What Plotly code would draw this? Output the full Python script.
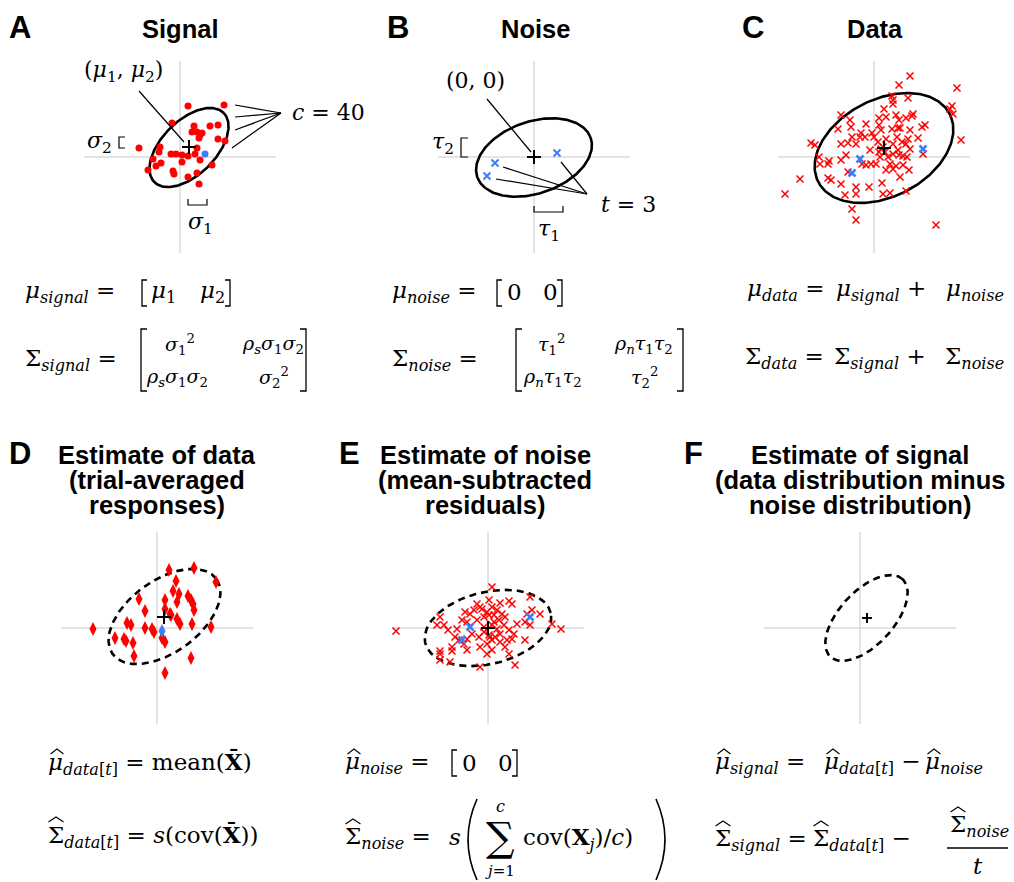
import numpy as np
import plotly.graph_objects as go

W, H = 1014, 882
HALF = 96

# ---------------- data (panel units: 1 unit = 1 px, origin at the cross) -------------
A_red_x = [8, 44, -8, 14, 12, 30, 38, 22, 19, 38, 45, -41, -20, -21, 17, -9, -4, 2, 8, 15,
           -27, 2, 20, 32, -24, -19, -32, -7, -6, 8, 17, 19, 17, 20]
A_red_y = [51, 52, 34, 31, 25, 31, 32, 24, 19, 18, 16, 9, 10, 5, 9, 3, 3, 2, 1, 3,
           -2, -5, -3, -8, -9, -6, -13, -14, -17, -20, -16, -27, 25, 22]
A_blue_x = [25]
A_blue_y = [3]
A_mean = [9, 10]

B_blue_x = [23, -39, -47]
B_blue_y = [4, -6, -19]
B_mean = [0, 0]

C_red_x = [36, 25, 83, 18, 19, 34, 19, 10, 78, 76, 79, -33, 5, 12, 39, 38, 25, 32, -24, -8,
           -23, 51, 48, 24, -36, -13, 7, -2, 18, 26, 36, -22, -14, 0, 12, 23, 34, 44, 87, -63,
           -59, -26, -18, 4, 19, 32, 7, 24, 36, 19, -4, 14, 25, 29, 33, 49, -55, -45, -33, -54,
           -46, -12, -8, 2, 16, 22, 29, -26, 12, 19, -74, -46, -43, -33, -18, -5, 8, 26, -89, -29,
           -18, 9, 16, 32, -22, -18, 62, 5, 9, 5, 11, -3, -28, -33, 22, 6, -9, 28, 35]
C_red_y = [81, 72, 69, 61, 57, 59, 53, 48, 51, 48, 43, 42, 39, 40, 43, 41, 37, 39, 37, 33,
           30, 32, 30, 29, 28, 24, 27, 24, 28, 29, 27, 20, 20, 20, 18, 20, 18, 19, 17, 14,
           12, 14, 13, 15, 13, 13, 8, 7, 8, 3, 7, 0, 2, 1, 0, 3, 0, -4, -3, -7,
           -7, -7, -8, -7, -7, -9, -8, -15, -13, -12, -22, -21, -23, -27, -30, -30, -26, -20, -37, -38,
           -37, -37, -36, -34, -52, -63, -68, 32, 10, 5, 5, -7, 2, 13, 42, 0, 20, 15, -13]
C_blue_x = [49, -14, -22]
C_blue_y = [8, -2, -16]
C_mean = [10, 9]

D_red_x = [12, 37, 59, 19, 16, 22, 20, 31, 34, 36, 37, -18, 8, -12, 8, 13, 20, 23, 35, 54,
           -30, -26, -12, -5, -3, -64, -42, -33, -31, -24, -23, 5, 8, 34, 8, 14]
D_red_y = [58, 60, 46, 47, 37, 34, 26, 32, 28, 24, 18, 29, 28, 17, 19, 14, 9, 4, 4, 1,
           5, 3, 0, -1, -4, -1, -10, -11, -13, -15, -28, -10, -14, -30, -45, 13]
D_blue_x = [5]
D_blue_y = [-3]
D_mean = [7, 11]

E_red_x = [4, 1, 42, -11, -8, -14, -18, -23, 12, 21, 24, 4, 9, -1, 6, 14, 17, 11, -4, -11,
           -21, -26, -48, -44, -51, -40, -31, 39, 44, 52, 37, 42, 64, 73, -92, 29, -4, 4, 9, 16,
           21, 26, 12, 7, 1, 4, -1, 12, 19, 17, 21, -9, -16, -21, -24, -33, -29, -36, -36, -48,
           -48, -48, -38, -8, 27, 37, -1, 4, 6, 2, -4, -8, -21, 24, 1, -6]
E_red_y = [41, 28, 31, 24, 21, 18, 14, 16, 25, 27, 24, 21, 18, 16, 13, 14, 11, 8, 11, 8,
           6, 8, 11, 3, 3, -2, -1, 14, 18, 14, 6, 3, 4, -1, -3, 4, 1, 3, -1, 3,
           -2, -6, -6, -9, -7, -12, -16, -14, -12, -19, -26, -9, -6, -11, -16, -9, -12, -19, -23, -23,
           -26, -32, -34, -39, -37, -12, -26, -22, 6, -9, -4, -19, -22, -11, 13, 19]
E_blue_x = [42, -18, -26]
E_blue_y = [11, 1, -12]
E_mean = [0, 0]

F_mean = [7, 10]

# ellipse parameters per panel: centre x, centre y, semi-major, semi-minor, angle (deg)
ELL = {
    "A": (9, 9.5, 49, 27, 45),
    "B": (0, -0.5, 60, 36, 19),
    "C": (10, 9, 74, 48.5, 27.5),
    "D": (7.5, 11.5, 64, 36, 36),
    "E": (0, 0, 64.5, 36, 13.5),
    "F": (6.5, 10, 53, 27, 47),
}

# panel centres in page pixels
CENTERS = {"A": (180, 157), "B": (534, 157), "C": (874, 157),
           "D": (157, 628), "E": (488, 628), "F": (860, 628)}
ORDER = ["A", "B", "C", "D", "E", "F"]

RED = "#ff0000"
BLUE = "#3d7ef5"
GRAY = "#c8c8c8"
SERIF = "DejaVu Serif"
SANS = "Liberation Sans"
MF = 23      # math font size
MM = 19      # matrix entry font size

fig = go.Figure()


def px2paper(px, py):
    return px / W, 1 - py / H


def ax_ids(i):
    return ("x" if i == 0 else f"x{i+1}"), ("y" if i == 0 else f"y{i+1}")


def ellipse_xy(cx, cy, a, b, ang):
    t = np.linspace(0, 2 * np.pi, 240)
    th = np.deg2rad(ang)
    x = cx + a * np.cos(t) * np.cos(th) - b * np.sin(t) * np.sin(th)
    y = cy + a * np.cos(t) * np.sin(th) + b * np.sin(t) * np.cos(th)
    return x, y


layout_axes = {}
for i, p in enumerate(ORDER):
    cx, cy = CENTERS[p]
    xa, ya = ax_ids(i)
    key = "" if i == 0 else str(i + 1)
    layout_axes["xaxis" + key] = dict(domain=[(cx - HALF) / W, (cx + HALF) / W], range=[-HALF, HALF],
                                      visible=False, fixedrange=True)
    layout_axes["yaxis" + key] = dict(domain=[1 - (cy + HALF) / H, 1 - (cy - HALF) / H], range=[-HALF, HALF],
                                      visible=False, fixedrange=True)
    fig.add_trace(go.Scatter(x=[-HALF, HALF], y=[0, 0], mode="lines", line=dict(color=GRAY, width=1),
                             xaxis=xa, yaxis=ya, hoverinfo="skip", showlegend=False))
    fig.add_trace(go.Scatter(x=[0, 0], y=[-HALF, HALF], mode="lines", line=dict(color=GRAY, width=1),
                             xaxis=xa, yaxis=ya, hoverinfo="skip", showlegend=False))


def add_pts(p, xs, ys, symbol, color, size, lw=0):
    i = ORDER.index(p)
    xa, ya = ax_ids(i)
    marker = dict(symbol=symbol, size=size, color=color)
    if lw:
        marker["line"] = dict(width=lw, color=color)
    fig.add_trace(go.Scatter(x=xs, y=ys, mode="markers", marker=marker, xaxis=xa, yaxis=ya,
                             cliponaxis=False, hoverinfo="skip", showlegend=False))


def add_ell(p, dashed):
    i = ORDER.index(p)
    xa, ya = ax_ids(i)
    x, y = ellipse_xy(*ELL[p])
    fig.add_trace(go.Scatter(x=x, y=y, mode="lines",
                             line=dict(color="black", width=2.6, dash="7px,5px" if dashed else "solid"),
                             xaxis=xa, yaxis=ya, hoverinfo="skip", showlegend=False))


def add_mean(p, m, size=10, lw=2):
    add_pts(p, [m[0]], [m[1]], "cross-thin", "black", size, lw)


add_ell("A", False)
add_pts("A", A_red_x, A_red_y, "circle", RED, 7)
add_pts("A", A_blue_x, A_blue_y, "circle", BLUE, 7)
add_mean("A", A_mean)
add_ell("B", False)
add_pts("B", B_blue_x, B_blue_y, "x-thin", BLUE, 7, 2)
add_mean("B", B_mean)
add_ell("C", False)
add_pts("C", C_red_x, C_red_y, "x-thin", RED, 7, 1.5)
add_pts("C", C_blue_x, C_blue_y, "x-thin", BLUE, 7, 2.5)
add_mean("C", C_mean)
add_ell("D", True)
add_pts("D", D_red_x, D_red_y, "diamond-tall", RED, 10)
add_pts("D", D_blue_x, D_blue_y, "diamond-tall", BLUE, 10)
add_mean("D", D_mean)
add_ell("E", True)
add_pts("E", E_red_x, E_red_y, "x-thin", RED, 7, 1.5)
add_pts("E", E_blue_x, E_blue_y, "x-thin", BLUE, 7, 2.5)
add_mean("E", E_mean)
add_ell("F", True)
add_mean("F", F_mean, 7, 2)

annotations = []
shapes = []


def text(px, py, s, size=MF, family=SERIF, xanchor="center", yanchor="middle"):
    x, y = px2paper(px, py)
    annotations.append(dict(x=x, y=y, xref="paper", yref="paper", text=s, showarrow=False,
                            xanchor=xanchor, yanchor=yanchor,
                            font=dict(family=family, size=size, color="black")))


def line(x0, y0, x1, y1, w=1.2):
    a0, b0 = px2paper(x0, y0)
    a1, b1 = px2paper(x1, y1)
    shapes.append(dict(type="line", xref="paper", yref="paper", x0=a0, y0=b0, x1=a1, y1=b1,
                       line=dict(color="black", width=w)))


def path(pts, w=1.2):
    d = ""
    for k, (px, py) in enumerate(pts):
        x, y = px2paper(px, py)
        d += ("M" if k == 0 else "L") + f"{x},{y} "
    shapes.append(dict(type="path", xref="paper", yref="paper", path=d.strip(),
                       line=dict(color="black", width=w)))


def paren(x_end, x_mid, y0, y1, w=1.6):
    a0, b0 = px2paper(x_end, y0)
    am, bm = px2paper(2 * x_mid - x_end, (y0 + y1) / 2)
    a1, b1 = px2paper(x_end, y1)
    shapes.append(dict(type="path", xref="paper", yref="paper",
                       path=f"M{a0},{b0} Q{am},{bm} {a1},{b1}", line=dict(color="black", width=w)))


def hat(xc, ytop, half=6.5, h=5):
    path([(xc - half, ytop + h), (xc, ytop), (xc + half, ytop + h)], 1.1)


def mu_hat(x0, py):
    hat(x0 + 11, py - 14, 6.5, 5)


def sig_hat(x0, py):
    hat(x0 + 10, py - 19, 7.5, 5)


# ---- titles ----
for letter, lx, ly in [("A", 20, 27), ("B", 398, 27), ("C", 753, 27),
                       ("D", 20, 453), ("E", 349, 453), ("F", 693, 453)]:
    text(lx, ly, "<b>" + letter + "</b>", 31, SANS)
text(180, 29, "<b>Signal</b>", 25.5, SANS)
text(535, 29, "<b>Noise</b>", 25.5, SANS)
text(875, 29, "<b>Data</b>", 25.5, SANS)
for k, s in enumerate(["Estimate of data", "(trial-averaged", "responses)"]):
    text(157, 455 + 25 * k, "<b>" + s + "</b>", 25.5, SANS)
for k, s in enumerate(["Estimate of noise", "(mean-subtracted", "residuals)"]):
    text(485, 455 + 25 * k, "<b>" + s + "</b>", 25.5, SANS)
for k, s in enumerate(["Estimate of signal", "(data distribution minus", "noise distribution)"]):
    text(860, 455 + 25 * k, "<b>" + s + "</b>", 25.5, SANS)

# ---- panel A labels ----
text(123, 71, "(<i>μ</i><sub>1</sub>, <i>μ</i><sub>2</sub>)", 22)
line(139, 91, 184, 142)
text(290, 113, "<i>c</i> = 40", 22, xanchor="left")
for ex, ey in [(235, 105), (235, 117), (235, 130), (232, 148)]:
    line(281, 113, ex, ey)
text(99, 142, "<i>σ</i><sub>2</sub>", 22)
path([(125, 137), (119, 137), (119, 148), (125, 148)])
path([(188, 199), (188, 205), (207, 205), (207, 199)])
text(200, 223, "<i>σ</i><sub>1</sub>", 22)

# ---- panel B labels ----
text(475, 80, "(0, 0)", 22)
line(487, 99, 531, 152)
text(443, 144, "<i>τ</i><sub>2</sub>", 22)
path([(468, 138), (461, 138), (461, 157), (468, 157)])
path([(534, 206), (534, 212), (563, 212), (563, 206)])
text(549, 231, "<i>τ</i><sub>1</sub>", 22)
text(628, 204, "<i>t</i> = 3", 22)
for ex, ey in [(503, 167), (496, 179), (561, 162)]:
    line(587, 194, ex, ey)

# ---- formulas, top row ----
text(23, 292, "<i>μ</i><sub><i>signal</i></sub> =", MF, xanchor="left")
path([(147, 280), (142, 280), (142, 306), (147, 306)], 1.3)
text(163, 292, "<i>μ</i><sub>1</sub>", MF)
text(212, 292, "<i>μ</i><sub>2</sub>", MF)
path([(225, 280), (230, 280), (230, 306), (225, 306)], 1.3)

text(23, 360, "Σ<sub><i>signal</i></sub> =", MF, xanchor="left")
path([(147, 329), (141, 329), (141, 391), (147, 391)], 1.3)
path([(300, 329), (306, 329), (306, 391), (300, 391)], 1.3)
text(180, 344, "<i>σ</i><sub>1</sub><sup>2</sup>", MM)
text(273, 344, "<i>ρ<sub>s</sub>σ</i><sub>1</sub><i>σ</i><sub>2</sub>", MM)
text(177, 377, "<i>ρ<sub>s</sub>σ</i><sub>1</sub><i>σ</i><sub>2</sub>", MM)
text(274, 377, "<i>σ</i><sub>2</sub><sup>2</sup>", MM)

text(390, 292, "<i>μ</i><sub><i>noise</i></sub> =", MF, xanchor="left")
path([(502, 280), (497, 280), (497, 306), (502, 306)], 1.3)
text(514, 292, "0", MF)
text(550, 292, "0", MF)
path([(557, 280), (562, 280), (562, 306), (557, 306)], 1.3)

text(390, 360, "Σ<sub><i>noise</i></sub> =", MF, xanchor="left")
path([(522, 329), (516, 329), (516, 391), (522, 391)], 1.3)
path([(677, 329), (683, 329), (683, 391), (677, 391)], 1.3)
text(551, 344, "<i>τ</i><sub>1</sub><sup>2</sup>", MM)
text(643, 344, "<i>ρ<sub>n</sub>τ</i><sub>1</sub><i>τ</i><sub>2</sub>", MM)
text(552, 377, "<i>ρ<sub>n</sub>τ</i><sub>1</sub><i>τ</i><sub>2</sub>", MM)
text(644, 377, "<i>τ</i><sub>2</sub><sup>2</sup>", MM)

text(745, 290, "<i>μ</i><sub><i>data</i></sub> =", MF, xanchor="left")
text(834, 290, "<i>μ</i><sub><i>signal</i></sub> +", MF, xanchor="left")
text(944, 290, "<i>μ</i><sub><i>noise</i></sub>", MF, xanchor="left")
text(743, 358, "Σ<sub><i>data</i></sub> =", MF, xanchor="left")
text(832, 358, "Σ<sub><i>signal</i></sub> +", MF, xanchor="left")
text(943, 358, "Σ<sub><i>noise</i></sub>", MF, xanchor="left")

# ---- formulas, bottom row ----
BAR = "\u0304"
text(46, 763, "<i>μ</i><sub><i>data</i>[<i>t</i>]</sub> = mean(<b>X" + BAR + "</b>)", MF, xanchor="left")
mu_hat(46, 763)
text(46, 836, "Σ<sub><i>data</i>[<i>t</i>]</sub> = <i>s</i>(cov(<b>X" + BAR + "</b>))", MF, xanchor="left")
sig_hat(46, 836)

text(343, 763, "<i>μ</i><sub><i>noise</i></sub> =", MF, xanchor="left")
mu_hat(343, 763)
path([(457, 750), (452, 750), (452, 776), (457, 776)], 1.3)
text(469, 763, "0", MF)
text(505, 763, "0", MF)
path([(512, 750), (517, 750), (517, 776), (512, 776)], 1.3)

text(343, 838, "Σ<sub><i>noise</i></sub> =", MF, xanchor="left")
sig_hat(343, 838)
text(455, 837, "<i>s</i>", MF)
paren(477, 468, 799, 880)
text(500, 837, "∑", 40)
text(500, 806, "<i>c</i>", 16)
text(500, 871, "<i>j</i>=1", 15)
text(521, 838, "cov(<b>X</b><sub><i>j</i></sub>)/<i>c</i>)", MF, xanchor="left")
paren(656, 665, 799, 880)

text(713, 763, "<i>μ</i><sub><i>signal</i></sub> =", MF, xanchor="left")
mu_hat(713, 763)
text(822, 763, "<i>μ</i><sub><i>data</i>[<i>t</i>]</sub> −", MF, xanchor="left")
mu_hat(822, 763)
text(923, 763, "<i>μ</i><sub><i>noise</i></sub>", MF, xanchor="left")
mu_hat(923, 763)

text(713, 840, "Σ<sub><i>signal</i></sub> =", MF, xanchor="left")
sig_hat(713, 840)
text(811, 840, "Σ<sub><i>data</i>[<i>t</i>]</sub> −", MF, xanchor="left")
sig_hat(811, 840)
text(948, 826, "Σ<sub><i>noise</i></sub>", MF, xanchor="left")
sig_hat(948, 826)
line(947, 848, 1008, 848, 1.3)
text(978, 866, "<i>t</i>", MF)

fig.update_layout(width=W, height=H, autosize=False, margin=dict(l=0, r=0, t=0, b=0),
                  paper_bgcolor="white", plot_bgcolor="rgba(0,0,0,0)",
                  annotations=annotations, shapes=shapes, showlegend=False, **layout_axes)

fig.write_html("out.html", config={"displayModeBar": False},
               post_script="document.body.style.margin='0';")
